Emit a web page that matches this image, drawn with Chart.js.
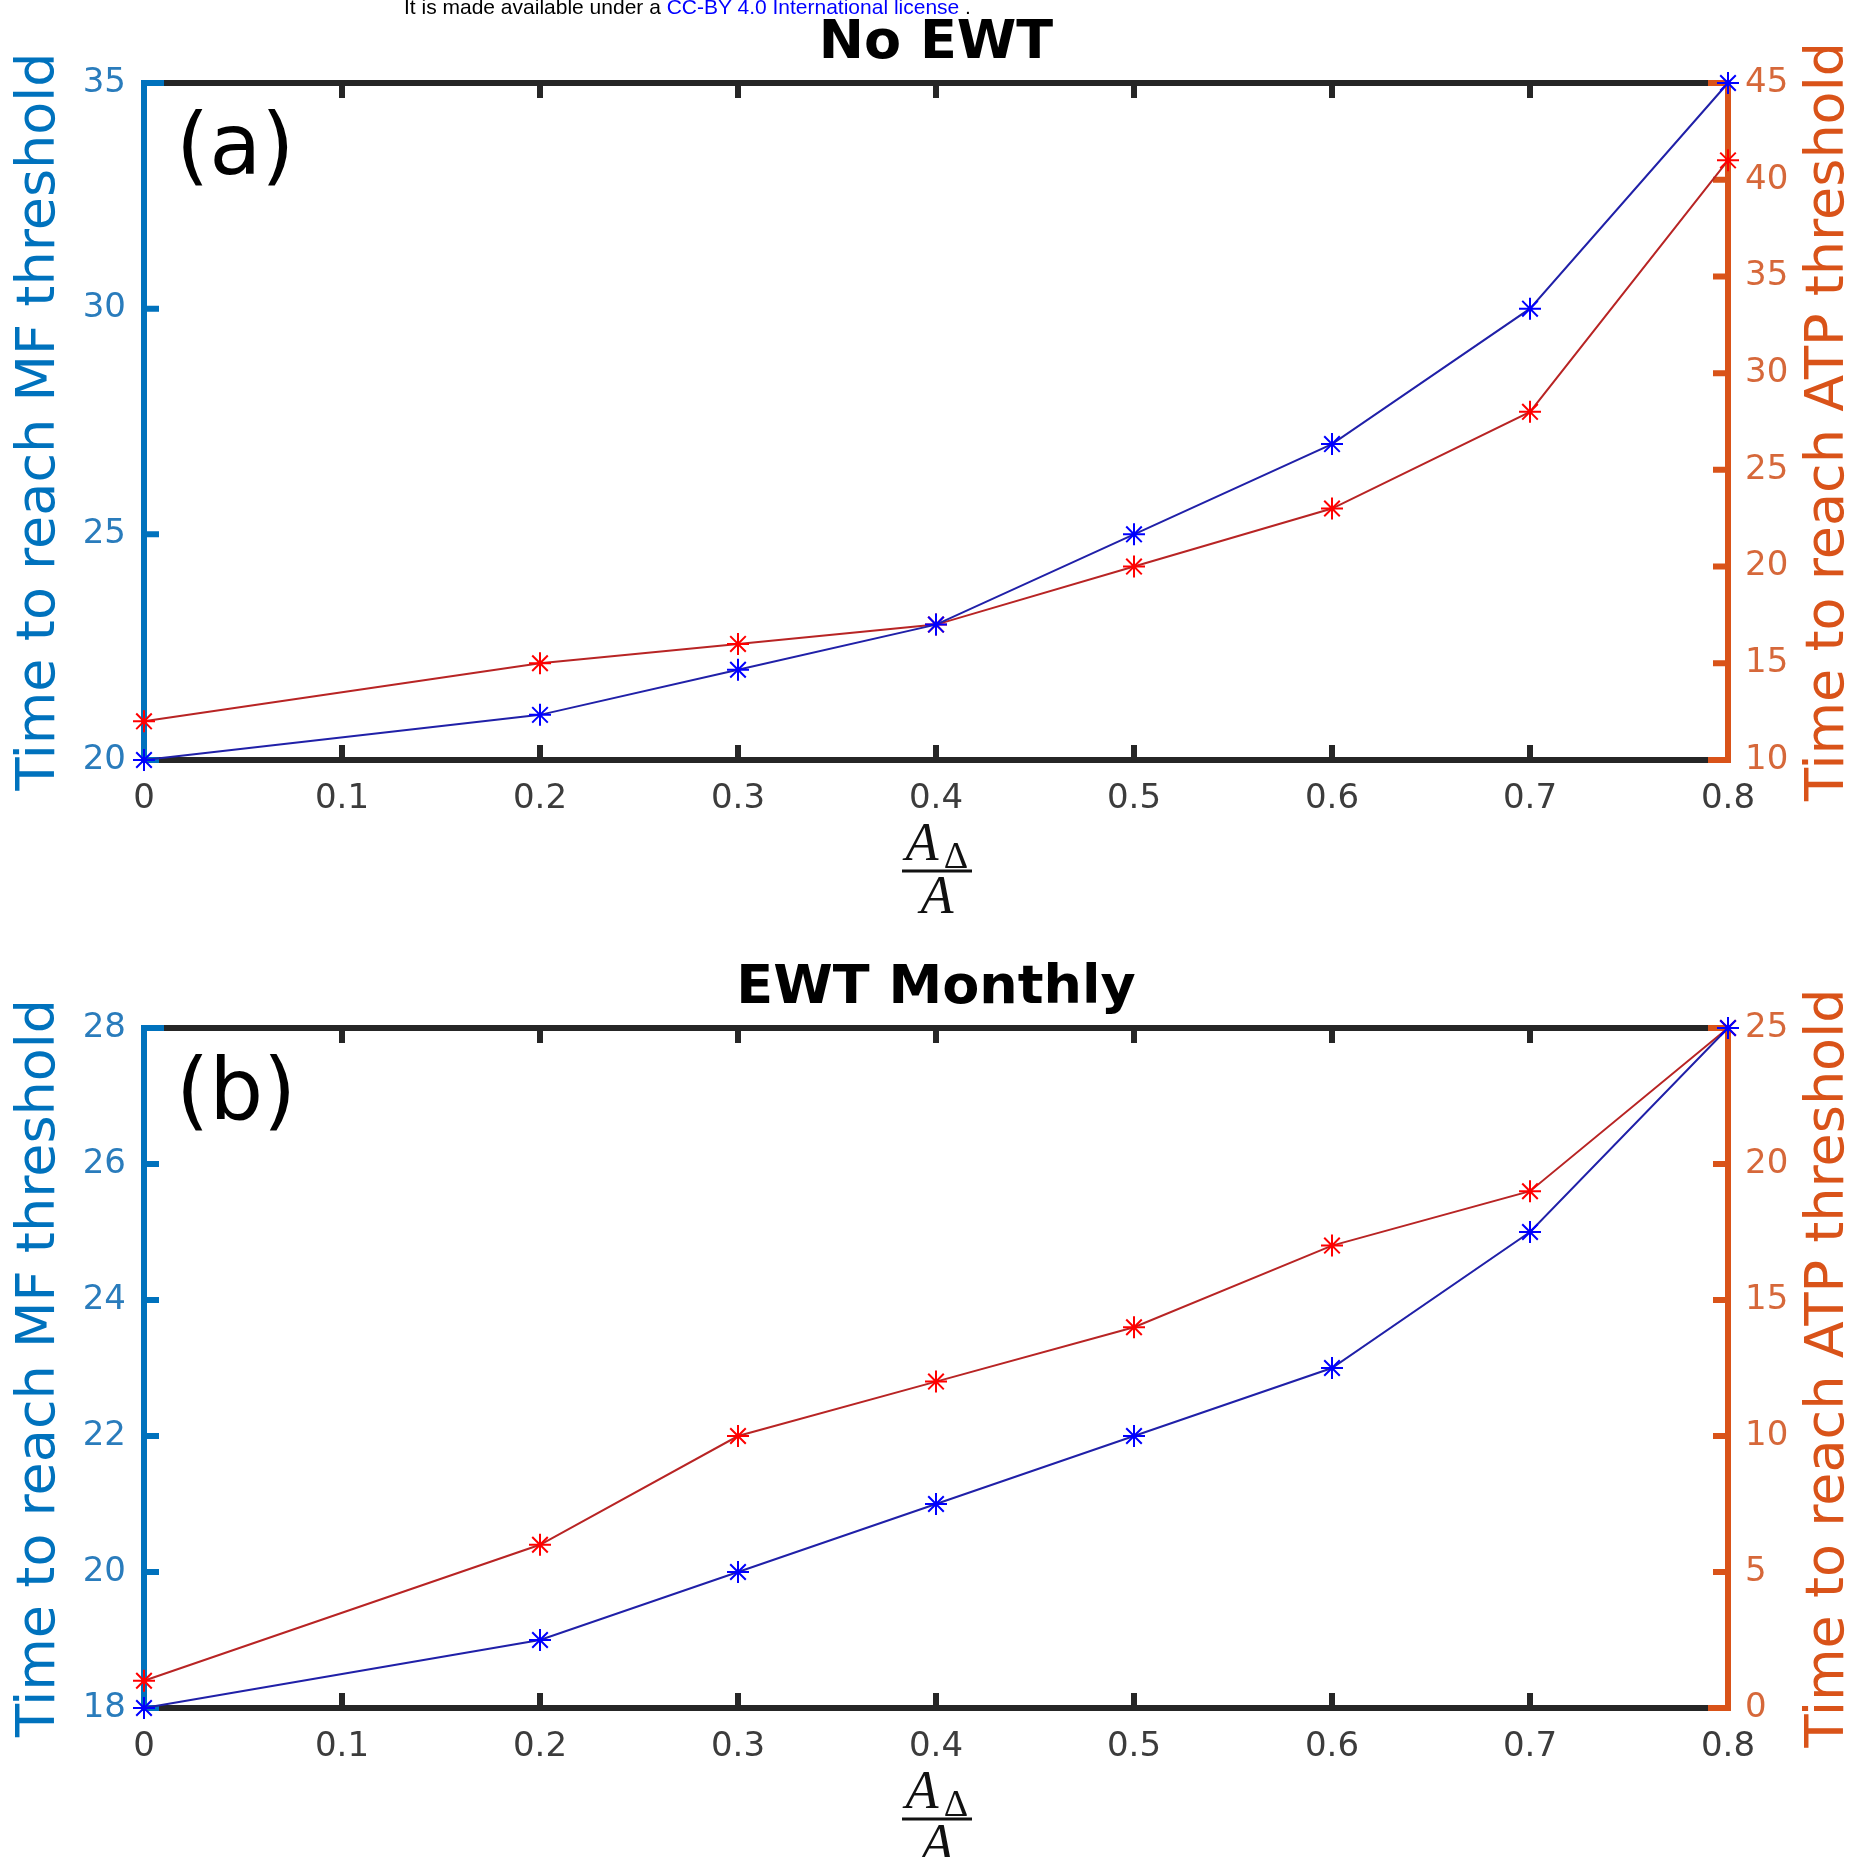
<!DOCTYPE html>
<html>
<head>
<meta charset="utf-8">
<title>Time to reach thresholds</title>
<script src="https://cdn.jsdelivr.net/npm/chart.js@4.4.1/dist/chart.umd.min.js"></script>
<style>
  html, body { margin: 0; padding: 0; background: #fff; }
  body { width: 1862px; height: 1857px; position: relative; overflow: hidden; }
  canvas { position: absolute; left: 0; }
  #canvasA { top: 0; }
  #canvasB { top: 930px; }
  #header {
    position: absolute; left: 404px; top: -4px; z-index: 2;
    font: 21px "Liberation Sans", Arial, sans-serif; line-height: 21px;
    color: #000; white-space: nowrap;
  }
  #header span { color: #0000ff; }
</style>
</head>
<body>
<div id="header">It is made available under a <span>CC-BY 4.0 International license</span> .</div>
<canvas id="canvasA" width="1862" height="930"></canvas>
<canvas id="canvasB" width="1862" height="927"></canvas>
<script>
// x values (A_delta / A)
const xValues = [0, 0.2, 0.3, 0.4, 0.5, 0.6, 0.7, 0.8];

// (a) No EWT
const mfNoEwt = [20, 21, 22, 23, 25, 27, 30, 35];
const atpNoEwt = [12, 15, 16, 17, 20, 23, 28, 41];

// (b) EWT Monthly
const mfMonthly = [18, 19, 20, 21, 22, 23, 25, 28];
const atpMonthly = [1, 6, 10, 12, 14, 17, 19, 25];

// axis ranges [min, max, step]
const xRange = [0, 0.8, 0.1];
const mfRangeA = [20, 35, 5];
const atpRangeA = [10, 45, 5];
const mfRangeB = [18, 28, 2];
const atpRangeB = [0, 25, 5];

const leftTitle = 'Time to reach MF threshold';
const rightTitle = 'Time to reach ATP threshold';

const BLUE_AXIS = '#0072BD';
const ORANGE_AXIS = '#D95319';
const DARK = '#262626';
const FONT = '"DejaVu Sans", Verdana, sans-serif';

function toPoints(ys) {
    return xValues.map((x, i) => ({ x: x, y: ys[i] }));
}

// axis frame with inward ticks, drawn under the data
const framePlugin = {
    id: 'frame',
    beforeDatasetsDraw(chart) {
        const ctx = chart.ctx;
        const a = chart.chartArea;
        const tick = 15;
        const corner = 20;
        ctx.save();
        ctx.lineCap = 'butt';
        ctx.lineWidth = 6;

        // top and bottom
        ctx.strokeStyle = DARK;
        ctx.beginPath();
        ctx.moveTo(a.left, a.top); ctx.lineTo(a.right, a.top);
        ctx.moveTo(a.left, a.bottom); ctx.lineTo(a.right, a.bottom);
        chart.scales.x.ticks.forEach(t => {
            const px = chart.scales.x.getPixelForValue(t.value);
            ctx.moveTo(px, a.top); ctx.lineTo(px, a.top + tick);
            ctx.moveTo(px, a.bottom); ctx.lineTo(px, a.bottom - tick);
        });
        ctx.stroke();

        // left axis
        ctx.strokeStyle = BLUE_AXIS;
        ctx.beginPath();
        ctx.moveTo(a.left + corner, a.top); ctx.lineTo(a.left - 3, a.top);
        ctx.moveTo(a.left, a.top); ctx.lineTo(a.left, a.bottom + 3);
        chart.scales.y.ticks.forEach(t => {
            const py = chart.scales.y.getPixelForValue(t.value);
            ctx.moveTo(a.left, py); ctx.lineTo(a.left + tick, py);
        });
        ctx.stroke();

        // right axis
        ctx.strokeStyle = ORANGE_AXIS;
        ctx.beginPath();
        ctx.moveTo(a.right - corner, a.top); ctx.lineTo(a.right + 3, a.top);
        ctx.moveTo(a.right - corner, a.bottom); ctx.lineTo(a.right + 3, a.bottom);
        ctx.moveTo(a.right, a.top); ctx.lineTo(a.right, a.bottom);
        chart.scales.y2.ticks.forEach(t => {
            const py = chart.scales.y2.getPixelForValue(t.value);
            ctx.moveTo(a.right, py); ctx.lineTo(a.right - tick, py);
        });
        ctx.stroke();
        ctx.restore();
    }
};

// titles, panel letter, axis titles and the fraction x label
const textPlugin = {
    id: 'panelText',
    afterDraw(chart, args, opts) {
        const ctx = chart.ctx;
        const a = chart.chartArea;
        const midX = (a.left + a.right) / 2;
        const midY = (a.top + a.bottom) / 2;
        ctx.save();

        ctx.fillStyle = '#000';
        ctx.textAlign = 'center';
        ctx.textBaseline = 'middle';
        ctx.font = 'bold 54px ' + FONT;
        ctx.fillText(opts.title, midX, a.top - 39);

        ctx.textAlign = 'left';
        ctx.font = '85px ' + FONT;
        ctx.fillText(opts.label, a.left + 32, a.top + 69);

        // axis titles, both read bottom to top
        ctx.textAlign = 'center';
        ctx.font = '54px ' + FONT;
        ctx.fillStyle = BLUE_AXIS;
        ctx.save();
        ctx.translate(40, midY);
        ctx.rotate(-Math.PI / 2);
        ctx.fillText(leftTitle, 0, 0);
        ctx.restore();

        ctx.fillStyle = ORANGE_AXIS;
        ctx.save();
        ctx.translate(1829, midY);
        ctx.rotate(-Math.PI / 2);
        ctx.fillText(rightTitle, 0, 0);
        ctx.restore();

        // A_delta / A
        ctx.fillStyle = '#111';
        ctx.textBaseline = 'alphabetic';
        ctx.font = 'italic 54px "Liberation Serif", "Times New Roman", serif';
        ctx.fillText('A', midX - 14, a.bottom + 100);
        ctx.fillText('A', midX + 1, a.bottom + 153);
        ctx.font = '38px "Liberation Serif", "Times New Roman", serif';
        ctx.fillText('\u0394', midX + 20, a.bottom + 108);
        ctx.strokeStyle = '#111';
        ctx.lineWidth = 3;
        ctx.beginPath();
        ctx.moveTo(midX - 34, a.bottom + 111);
        ctx.lineTo(midX + 36, a.bottom + 111);
        ctx.stroke();
        ctx.restore();
    }
};

function createPanel(canvasId, opts) {
    const ctx = document.getElementById(canvasId).getContext('2d');
    return new Chart(ctx, {
        type: 'line',
        data: {
            datasets: [{
                label: 'MF',
                data: toPoints(opts.mf),
                yAxisID: 'y',
                borderColor: '#2020a8',
                borderWidth: 2,
                pointStyle: 'star',
                pointRadius: 11,
                pointBorderWidth: 2,
                pointBorderColor: '#0000ff',
                tension: 0,
                clip: false
            }, {
                label: 'ATP',
                data: toPoints(opts.atp),
                yAxisID: 'y2',
                borderColor: '#b82424',
                borderWidth: 2,
                pointStyle: 'star',
                pointRadius: 11,
                pointBorderWidth: 2,
                pointBorderColor: '#ff0000',
                tension: 0,
                clip: false
            }]
        },
        options: {
            responsive: false,
            animation: false,
            events: [],
            layout: { padding: { top: opts.top, left: 0, right: 0, bottom: 0 } },
            plugins: {
                legend: { display: false },
                tooltip: { enabled: false },
                panelText: { title: opts.title, label: opts.label }
            },
            scales: {
                x: {
                    type: 'linear',
                    position: 'bottom',
                    min: xRange[0], max: xRange[1],
                    grid: { display: false, drawTicks: false },
                    border: { display: false },
                    ticks: {
                        stepSize: xRange[2],
                        autoSkip: false,
                        maxRotation: 0,
                        padding: 19,
                        color: '#3c3c3c',
                        font: { family: FONT, size: 34 },
                        callback: v => String(Math.round(v * 10) / 10)
                    },
                    afterFit: s => { s.height = opts.xHeight; }
                },
                y: {
                    type: 'linear',
                    position: 'left',
                    min: opts.mfRange[0], max: opts.mfRange[1],
                    grid: { display: false, drawTicks: false },
                    border: { display: false },
                    ticks: {
                        stepSize: opts.mfRange[2],
                        padding: 18,
                        color: '#2a7cbc',
                        font: { family: FONT, size: 34 }
                    },
                    afterFit: s => { s.width = 144; }
                },
                y2: {
                    type: 'linear',
                    position: 'right',
                    min: opts.atpRange[0], max: opts.atpRange[1],
                    grid: { display: false, drawTicks: false },
                    border: { display: false },
                    ticks: {
                        stepSize: opts.atpRange[2],
                        padding: 17,
                        color: '#d6683a',
                        font: { family: FONT, size: 34 }
                    },
                    afterFit: s => { s.width = 134; }
                }
            }
        },
        plugins: [framePlugin, textPlugin]
    });
}

createPanel('canvasA', {
    mf: mfNoEwt, atp: atpNoEwt,
    mfRange: mfRangeA, atpRange: atpRangeA,
    title: 'No EWT', label: '(a)',
    top: 83, xHeight: 170
});

createPanel('canvasB', {
    mf: mfMonthly, atp: atpMonthly,
    mfRange: mfRangeB, atpRange: atpRangeB,
    title: 'EWT Monthly', label: '(b)',
    top: 98, xHeight: 149
});
</script>
</body>
</html>
